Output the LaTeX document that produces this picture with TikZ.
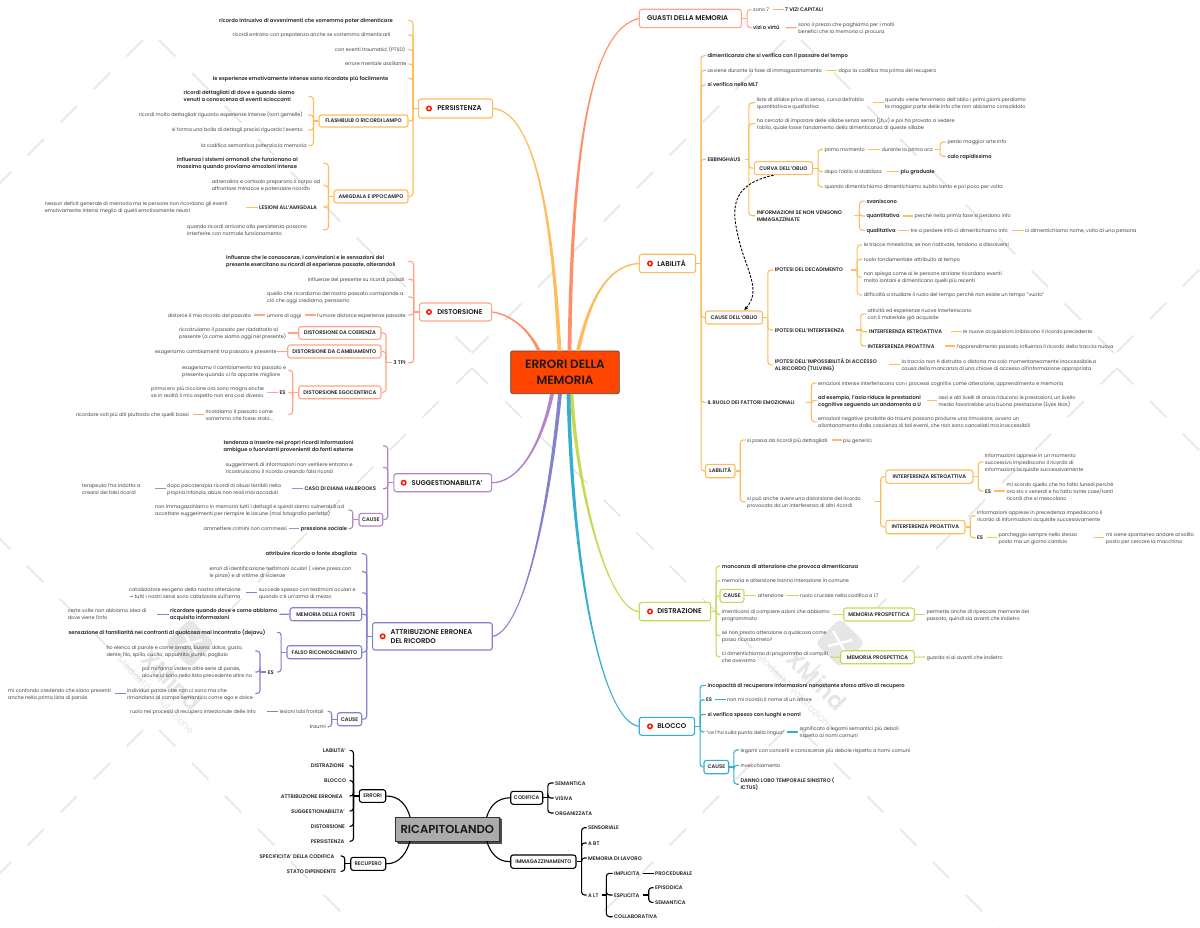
\documentclass[tikz,border=0pt]{standalone}
\usepackage{fontspec}
\setmainfont{Poppins}[BoldFont={Poppins SemiBold}]
\newfontfamily\arrowf{DejaVu Sans}
\usetikzlibrary{calc,arrows.meta}
\definecolor{cOr}{HTML}{FFBC5C}
\definecolor{cSa}{HTML}{FFA583}
\definecolor{cGu}{HTML}{FF8F6B}
\definecolor{cPu}{HTML}{B384C6}
\definecolor{cVi}{HTML}{8382CC}
\definecolor{cGr}{HTML}{C8DA55}
\definecolor{cBl}{HTML}{35AFCF}
\definecolor{cTx}{HTML}{444444}
\definecolor{cWm}{HTML}{E6E6E6}
\def\cc{black}
\newsavebox\tb
\newcommand\LL[1]{\begin{tabular}{@{}l@{}}#1\end{tabular}}
\newcommand\LS[1]{\sbox\tb{\LL{#1}}\raisebox{-.6pt}[\ht\tb][\dp\tb]{\usebox\tb}}
\tikzset{
 txt/.style={font=\fontsize{4.9}{7}\selectfont,text=cTx,inner xsep=1.5pt,inner ysep=0pt},
 btx/.style={font=\fontsize{5.2}{7}\selectfont\bfseries,text=black!85,inner xsep=1.5pt,inner ysep=0pt},
 bx/.style={draw=\cc,fill=white,line width=1.1pt,rounded corners=2.5pt,inner sep=0pt,font=\fontsize{5.25}{7}\selectfont\bfseries,text=black!85},
 mt/.style={draw=\cc,fill=white,line width=1.1pt,rounded corners=2.5pt,inner ysep=0pt,inner xsep=0pt,font=\fontsize{6.9}{9}\selectfont\bfseries,text=black!90},
 conn/.style={draw=\cc,line width=1.1pt},
 cur/.style={draw=\cc,line width=1.1pt,rounded corners=3pt},
 ico/.style={circle,draw=red!85!orange,line width=1.5pt,fill=white,minimum size=4.4pt,inner sep=0pt},
 wm/.style={draw=cWm,line width=1.7pt,dash pattern=on 23.3pt off 23.3pt},
}
% forced width text: xl, xr (connector end), y
\newcommand\Nd[6][txt]{\pgfmathsetmacro\wdd{#4-#3-1.5}\node[#1,anchor=west] (#2) at ({#3-1.5},#5) {\makebox[\wdd pt][l]{\LS{#6}}};}
% natural width text
\newcommand\Rt[5][txt]{\node[#1,anchor=west] (#2) at ({#3-1.5},#4) {\LS{#5}};}
\newcommand\Bx[6]{\pgfmathsetmacro\wdd{#3-#2}\pgfmathsetmacro\hdd{#5-#4}\node[bx,minimum width=\wdd pt,minimum height=\hdd pt] (#1) at ({(#2+#3)/2},{(#4+#5)/2}) {\raisebox{-1.9pt}[0pt][0pt]{#6}};}
% main topic: name xl xr yt yb textx iconx text
\newcommand\Mt[8]{\pgfmathsetmacro\wdd{#3-#2}\pgfmathsetmacro\hdd{#5-#4}\pgfmathsetmacro\pdd{#6-#2}\node[mt,anchor=west,minimum height=\hdd pt] (#1) at (#2,{(#4+#5)/2}) {\makebox[\wdd pt][l]{\hspace{\pdd pt}\LS{#8}}};\ifx&#7&\else\node[ico] (#1i) at (#7,{(#4+#5)/2}) {};\fi}
\newcommand\BR[3]{\draw[conn] (#1.east) -- ++(#2,0) coordinate (sp);\foreach \ch in {#3}{\draw[cur] (sp) |- (\ch.west);}}
\newcommand\BL[3]{\draw[conn] (#1.west) -- ++(-#2,0) coordinate (sp);\foreach \ch in {#3}{\draw[cur] (sp) |- (\ch.east);}}
\newcommand\LR[2]{\draw[conn] (#1.east) -- (#2.west);}
\newcommand\LF[2]{\draw[conn] (#1.west) -- (#2.east);}
% tapered trunk: sign, box anchor, c1, c2, end coordinate
\newcommand\Tk[5]{\fill[\cc] ($(#2)+(0,#1*.6)$) .. controls ($(#3)+(0,#1*1.1)$) and ($(#4)+(-1.5,0)$) .. ($(#5)+(-1.9,0)$) -- ($(#5)+(1.9,0)$) .. controls ($(#4)+(1.5,0)$) and ($(#3)+(0,-#1*1.1)$) .. ($(#2)+(0,-#1*.6)$) -- cycle;}
\begin{document}
\begin{tikzpicture}[x=1pt,y=-1pt]
\useasboundingbox (0,0) rectangle (1200,928);
\fill[white] (0,0) rectangle (1200,928);
% ---------- watermark
\foreach \ax/\ay/\bx/\by in {143/40/-10/193,159/40/471/352,785/40/471/354,801/40/1117/356,1117/352/1210/259,
 472/368/151/689,472/368/793/689,1117/368/793/692,1117/368/1210/461,-171/368/151/690,
 143/730/-20/893,159/730/370/941,785/730/570/945,801/730/1015/944}
 {\draw[wm] (\ax,\ay) -- (\bx,\by);}
\node[rotate=45,fill=cWm,rounded corners=5pt,minimum size=35pt,inner sep=0pt] (lg1) at (190,643) {};
\node[rotate=45,fill=cWm,rounded corners=5pt,minimum size=35pt,inner sep=0pt] (lg2) at (840,643) {};
\draw[white,line width=2.5pt] (lg1.center)++(-7,-12) -- ++(14,24) (lg1.center)++(-12,3) -- ++(24,-6);
\draw[white,line width=2.5pt] (lg2.center)++(-7,-12) -- ++(14,24) (lg2.center)++(-12,3) -- ++(24,-6);
\node[rotate=-45,text=cWm,font=\fontsize{23}{23}\selectfont\bfseries,inner sep=0pt] (wx1) at (172,680) {XMind};
\node[rotate=-45,text=cWm,font=\fontsize{23}{23}\selectfont\bfseries,inner sep=0pt] (wx2) at (817,680) {XMind};
\node[rotate=-45,text=cWm,font=\fontsize{10}{10}\selectfont,inner sep=0pt] (wt1) at (156,695) {Modalità valutazione};
\node[rotate=-45,text=cWm,font=\fontsize{10}{10}\selectfont,inner sep=0pt] (wt2) at (796,692) {Modalità valutazione};
% ---------- central
\node[draw=black!70,fill={rgb,255:red,255;green,69;blue,0},line width=.8pt,rounded corners=2pt,minimum width=108.6pt,minimum height=42.7pt,inner sep=0pt,align=center,font=\fontsize{12}{15.7}\selectfont\bfseries,text=black!90] (cen) at (565,372.3) {ERRORI DELLA\\MEMORIA};
\coordinate (tP) at (559.5,351);\coordinate (tD) at (539,351);\coordinate (tG) at (569.5,351);\coordinate (tL) at (578,351);
\coordinate (tS) at (552,394);\coordinate (tA) at (560,394);\coordinate (tB) at (568.5,394);\coordinate (tZ) at (571.5,394);
% ---------- PERSISTENZA
\def\cc{cOr}
\Mt{per}{418}{492}{99}{118}{436.7}{429}{PERSISTENZA}
\Tk{1}{per.east}{535,112}{553,220}{tP}
\Nd[btx]{p1}{219}{408}{20.5}{ricordo intrusivo di avvenimenti che vorremmo poter dimenticare}
\Nd{p2}{232.5}{408}{35}{ricordi entrano con prepotenza anche se vorremmo dimenticarli}
\Nd{p3}{335}{408}{49.5}{con eventi traumatici (PTSD)}
\Nd{p4}{345}{408}{64}{errore mentale assillante}
\Nd[btx]{p5}{212.7}{408}{78.5}{le esperienze emotivamente intense sono ricordate più facilmente}
\Bx{p6}{319}{408}{115}{127}{FLASHBULB O RICORDI LAMPO}
\Bx{p7}{334}{408}{190}{203}{AMIGDALA E IPPOCAMPO}
\BL{per}{5}{p1,p2,p3,p4,p5,p6,p7}
\Nd[btx]{f1}{183.5}{308}{96.5}{ricordi dettagliati di dove e quando siamo\\venuti a conoscenza di eventi scioccanti}
\Nd{f2}{138.7}{308}{115}{ricordi molto dettagliati riguardo esperienze intense (torri gemelle)}
\Nd{f3}{171.7}{308}{130}{si forma una bolla di dettagli precisi riguardo l'evento}
\Nd{f4}{201}{308}{145.5}{la codifica semantica potenzia la memoria}
\BL{p6}{5}{f1,f2,f3,f4}
\Nd[btx]{a1}{176.7}{323}{163.5}{influenza i sistemi ormonali che funzionano al\\massimo quando proviamo emozioni intense}
\Nd{a2}{211.7}{323}{185.5}{adrenalina e cortisolo preparano il corpo ad\\affrontare minacce e potenziare ricordo}
\Nd[btx]{a3}{259}{323}{207.5}{LESIONI ALL'AMIGDALA}
\Nd{a4}{187}{323}{229.8}{quando ricordi arrivano alla persistenza possono\\interferire con normale funzionamento}
\BL{p7}{5}{a1,a2,a3,a4}
\Nd{a31}{44.7}{246}{207.5}{nessun deficit generale di memoria ma le persone non ricordano gli eventi\\emotivamente intensi meglio di quelli emotivamente neutri}
\LF{a3}{a31}
% ---------- DISTORSIONE
\def\cc{cSa}
\Mt{dis}{419}{491}{303}{321}{436.7}{429}{DISTORSIONE}
\def\cc{cGu}\Tk{1}{dis.east}{515,315}{532,335}{tD}\def\cc{cSa}
\Nd[btx]{d1}{226}{408}{261.5}{influenze che le conoscenze, I convinzioni e le sensazioni del\\presente esercitano su ricordi di esperienze passate, alterandoli}
\Nd{d2}{307.7}{408}{279.3}{influenze del presente su ricordi passati}
\Nd{d3}{267}{408}{297}{quello che ricordiamo del nostro passato corrisponde a\\ciò che oggi crediamo, pensiamo}
\Nd{d4}{317}{408}{315}{l'umore distorce esperienze passate}
\Nd[btx]{d5}{393.3}{408}{362.7}{3 TPI}
\BL{dis}{5.3}{d1,d2,d3,d4,d5}
\Nd{d41}{266.7}{304.3}{315}{umore di oggi}
\Nd{d42}{167.7}{253.7}{315}{distorce il mio ricordo del passato}
\LF{d4}{d41}\LF{d41}{d42}
\Bx{dc}{298.7}{381}{326.7}{339.3}{DISTORSIONE DA COERENZA}
\Bx{dm}{287.7}{381}{345}{358}{DISTORSIONE DA CAMBIAMENTO}
\Bx{de}{298.7}{381}{386}{398.7}{DISTORSIONE EGOCENTRICA}
\BL{d5}{5.8}{dc,dm,de}
\Nd{dc1}{179}{287.7}{333}{ricostruiamo il passato per riadattarlo al\\presente (a come siamo oggi nel presente)}
\LF{dc}{dc1}
\Nd{dm1}{155}{277}{351.5}{esageriamo cambiamenti tra passato e presente}
\LF{dm}{dm1}
\Nd{e1}{182}{288}{370.5}{esageriamo il cambiamento tra passato e\\presente quando ci fa apparire migliore}
\Nd[btx]{e2}{279.3}{288}{392.3}{ES}
\Nd{e3}{205.3}{288}{414.5}{ricordiamo il passato come\\vorremmo che fosse stato...}
\BL{de}{5.4}{e1,e2,e3}
\Nd{e21}{151}{267}{392.3}{prima ero più ciccione ora sono magra anche\\se in realtà il mio aspetto non era così diverso}
\LF{e2}{e21}
\Nd{e31}{76}{192.7}{414.5}{ricordare voti più alti piuttosto che quelli bassi}
\LF{e3}{e31}
% ---------- SUGGESTIONABILITA
\def\cc{cPu}
\Mt{sug}{393.3}{491}{473.7}{491.7}{411}{403.7}{SUGGESTIONABILITA'}
\Tk{-1}{sug.east}{525,482}{545,430}{tS}
\Nd[btx]{s1}{223.3}{382.7}{446}{tendenza a inserire nei propri ricordi informazioni\\ambigue o fuorvianti provenienti da fonti esterne}
\Nd{s2}{225.7}{382.7}{467.5}{suggerimenti di informazioni non veritiere entrano e\\ricostruiscono il ricordo creando falsi ricordi}
\Nd[btx]{s3}{304.3}{382.7}{488.7}{CASO DI DIANA HALBROOKS}
\Bx{s4}{359}{382.7}{513.3}{526}{CAUSE}
\BL{sug}{5.6}{s1,s2,s3,s4}
\Nd{s31}{167}{291.7}{488.7}{dopo psicoterapia ricordi di abusi terribili nella\\propria infanzia, abusi non reali mai accaduti}
\Nd{s32}{82}{154.3}{488.7}{terapeuta l'ha indotta a\\crearsi dei falsi ricordi}
\LF{s3}{s31}\LF{s31}{s32}
\Nd{s41}{155}{348.3}{510}{non immagazziniamo in memoria tutti i dettagli e quindi siamo vulnerabili ad\\accettare suggerimenti per riempire le lacune (mai fotografia perfetta)}
\Nd[btx]{s42}{300.7}{348.3}{528.7}{pressione sociale}
\BL{s4}{5.7}{s41,s42}
\Nd{s43}{203.3}{288.3}{528.7}{ammettere crimini non commessi}
\LF{s42}{s43}
% ---------- ATTRIBUZIONE
\def\cc{cVi}
\Mt{att}{372}{491.7}{622.7}{650}{390}{382.7}{ATTRIBUZIONE ERRONEA\\DEL RICORDO}
\Tk{-1}{att.east}{525,630}{550,500}{tA}
\Nd[btx]{t1}{265.3}{361.7}{553.7}{attribuire ricordo a fonte sbagliata}
\Nd{t2}{209.3}{361.7}{571.7}{errori di identificazione testimoni oculari ( viene presa con\\le pinze) e di vittime di violenze}
\Nd{t3}{258.7}{361.7}{592.8}{succede spesso con testimoni oculari e\\quando c'è un'arma di mezzo}
\Bx{t4}{290}{361.7}{607.7}{620.7}{MEMORIA DELLA FONTE}
\Bx{t5}{287}{361.7}{645.7}{658.7}{FALSO RICONOSCIMENTO}
\Bx{t6}{337.3}{361.7}{712.7}{725.7}{CAUSE}
\BL{att}{5.3}{t1,t2,t3,t4,t5,t6}
\Nd{t31}{129}{245.7}{592.8}{catalizzatore esogeno della nostra attenzione\\{\arrowf →} tutti i nostri sensi sono catalizzate sull'arma}
\LF{t3}{t31}
\Nd[btx]{t41}{170}{279.3}{614.3}{ricordare quando dove e come abbiamo\\acquisito informazioni}
\Nd{t42}{67.7}{157}{614.3}{certe volte non abbiamo idea di\\dove viene l'info}
\LF{t4}{t41}\LF{t41}{t42}
\Nd[btx]{t51}{68.3}{276.7}{632.3}{sensazione di familiarità nei confronti di qualcosa mai incontrato (dejavu)}
\Nd[btx]{t52}{267.7}{276.7}{672}{ES}
\BL{t5}{5.3}{t51,t52}
\Nd{x1}{106.3}{255}{651}{ho elenco di parole e come amaro, buono, dolce, gusto,\\dente, filo, spillo, cucito, appuntito, punto, pagliaio}
\Nd{x2}{141.7}{255}{672}{poi mi fanno vedere altre serie di parole,\\alcune ci sono nella lista precedente altre no}
\Nd{x3}{127}{255}{693.5}{individuo parole che non ci sono ma che\\rimandano al campo semantico come ago e dolce}
\BL{t52}{6.2}{x1,x2,x3}
\Nd{x31}{8}{115}{693.5}{mi confondo credendo che siano presenti\\anche nella prima lista di parole}
\LF{x3}{x31}
\Nd{g1}{279.3}{327.3}{711.3}{lesioni lobi frontali}
\Nd{g2}{309.3}{327.3}{726.7}{traumi}
\BL{t6}{5}{g1,g2}
\Nd{g11}{130}{266.7}{711.3}{ruolo nei processi di recupero interzionale delle info}
\LF{g1}{g11}
% ---------- GUASTI
\def\cc{cSa}
\Mt{gua}{638.8}{740.8}{9.3}{27.7}{646.5}{}{GUASTI DELLA MEMORIA}
\def\cc{cGu}\Tk{-1}{gua.west}{590,30}{572,150}{tG}\def\cc{cSa}
\Nd{u1}{753}{772.4}{9.7}{sono 7}
\Rt[btx]{u11}{785}{9.7}{7 VIZI CAPITALI}
\Nd[btx]{u2}{753}{785.7}{27.7}{vizi o virtù}
\Rt{u21}{798.2}{27.8}{sono il prezzo che paghiamo per i molti\\benefici che la memoria ci procura}
\BR{gua}{5.2}{u1,u2}
\LR{u1}{u11}
\LR{u2}{u21}
% ---------- LABILITA
\def\cc{cOr}
\Mt{lab}{638.8}{695}{254.3}{272.7}{656.7}{650}{LABILITÀ}
\Tk{-1}{lab.west}{610,265}{590,295}{tL}
\Rt[btx]{l1}{707.3}{55.7}{dimenticanza che si verifica con il passare del tempo}
\Nd{l2}{707.3}{825.8}{70.3}{avviene durante la fase di immagazzinamento}
\Rt{l21}{838.3}{70.3}{dopo la codifica ma prima del recupero}
\LR{l2}{l21}
\Rt[btx]{l3}{707.3}{85}{si verifica nella MLT}
\Nd[btx]{l4}{707.3}{744.5}{159.3}{EBBINGHAUS}
\Bx{l5}{705.5}{762.5}{311}{324}{CAUSE DELL'OBLIO}
\Nd[btx]{l6}{707.3}{805.6}{402.3}{IL RUOLO DEI FATTORI EMOZIONALI}
\Bx{l7}{705.5}{735}{464.3}{477.7}{LABILITÀ}
\BR{lab}{5}{l1,l2,l3,l4,l5,l6,l7}
% ebbinghaus
\Nd{e41}{756.6}{872.2}{102.8}{liste di sillabe prive di senso, curva dell'oblio\\quantitativa e qualitativa}
\Rt{e411}{885}{102.8}{quando viene fenomeno dell'oblio i primi giorni perdiamo\\la maggior parte delle info che non abbiamo consolidato}
\LR{e41}{e411}
\Rt{e42}{756.6}{123.8}{ha cercato di imparare delle sillabe senza senso (j,h,v) e poi ha provato a vedere\\l'oblio, quale fosse l'andamento della dimenticanza di queste sillabe}
\Bx{cu}{754.4}{812.6}{161.7}{174.7}{CURVA DELL'OBLIO}
\Nd[btx]{e44}{756.6}{853.8}{215.8}{INFORMAZIONI SE NON VENGONO\\IMMAGAZZINATE}
\BR{l4}{4}{e41,e42,cu,e44}
\Nd{cu1}{824.3}{867.4}{149.3}{primo momento}
\Nd{cu11}{881.4}{934.7}{149.3}{durante la prima ora}
\LR{cu1}{cu11}
\Rt{cu111}{947.3}{142}{perdo maggior arte info}
\Rt[btx]{cu112}{947.3}{156.3}{calo rapidissimo}
\BR{cu11}{5}{cu111,cu112}
\Nd{cu2}{824.3}{886.5}{171.7}{dopo l'oblio si stabilizza}
\Rt[btx]{cu21}{900.5}{171.7}{piu graduale}
\LR{cu2}{cu21}
\Rt{cu3}{824.3}{187}{quando dimentichiamo dimentichiamo subito tanto e poi poco per volta}
\BR{cu}{5}{cu1,cu2,cu3}
\Rt[btx]{i1}{866.3}{201.3}{svaniscono}
\Nd[btx]{i2}{866.3}{902.7}{216}{quantitativa}
\Rt{i21}{914.5}{216}{perché nella prima fase si perdono info}
\LR{i2}{i21}
\Nd[btx]{i3}{866.3}{898}{230.3}{qualitativa}
\Nd{i31}{910.5}{1012}{230.3}{tre a perdere info ci dimentichiamo info}
\LR{i3}{i31}
\Rt{i32}{1025}{230.3}{ci dimentichiamo nome, volto di una persona}
\LR{i31}{i32}
\BR{e44}{5.2}{i1,i2,i3}
% cause oblio
\Nd[btx]{h1}{774.6}{850.8}{270}{IPOTESI DEL DECADIMENTO}
\Nd[btx]{h2}{774.6}{855.2}{330}{IPOTESI DELL'INTERFERENZA}
\Nd[btx]{h3}{774.6}{888.7}{364.8}{IPOTESI DELL'IMPOSSIBILITÀ DI ACCESSO\\AL RICORDO (TULVING)}
\BR{l5}{4.8}{h1,h2,h3}
\Rt{h11}{863.7}{245}{le tracce mnestiche, se non riattivate, tendono a dissolversi}
\Rt{h12}{863.7}{259.3}{ruolo fondamentale attribuito al tempo}
\Rt{h13}{863.7}{277.2}{non spiega come ai le persone anziane ricordano eventi\\molto lontani e dimenticano quelli più recenti}
\Rt{h14}{863.7}{295}{difficoltà a studiare il ruolo del tempo perché non esiste un tempo "vuoto"}
\BR{h1}{5.9}{h11,h12,h13,h14}
\Rt{h21}{867.4}{313.8}{attività ed esperienze nuove interferiscono\\con il materiale già acquisite}
\Nd[btx]{h22}{868.9}{950.6}{331.7}{INTERFERENZA RETROATTIVA}
\Rt{h221}{963}{331.7}{le nuove acquisizioni inibiscono il ricordo precedente}
\LR{h22}{h221}
\Nd[btx]{h23}{867.4}{944.7}{346}{INTERFERENZA PROATTIVA}
\Rt{h231}{956.5}{346}{l'apprendimento passato influenza il ricordo della traccia nuova}
\LR{h23}{h231}
\BR{h2}{5.2}{h21,h22,h23}
\Rt{h31}{901.3}{364.8}{la traccia non è distrutta o distorta ma solo momentaneamente inaccessibile,a\\causa della mancanza di una chiave di accesso all'informazione appropriata}
\LR{h3}{h31}
% emozionali
\Rt{m1}{818}{383}{emozioni intense interferiscono con i processi cognitivi come attenzione, apprendimento e memoria}
\Nd[btx]{m2}{818}{926.7}{400.5}{ad esempio, l'asia riduce le prestazioni\\cognitive seguendo un andamento a U}
\Rt{m21}{938.4}{400.5}{assi e alti livelli di ansia riducono le prestazioni, un livello\\medio favorirebbe una buona prestazione (Eyes Nick)}
\LR{m2}{m21}
\Rt{m3}{818}{421.8}{emozioni negative prodotte da traumi possono produrre una rimozione, ovvero un\\allontanamento dalla coscienza di tali eventi, che non sono cancellati ma inaccessibili}
\BR{l6}{5.4}{m1,m2,m3}
% labilita
\Nd{n1}{747}{831.3}{440}{si passa da ricordi più dettagliati}
\Rt{n11}{843}{440}{piu generici}
\LR{n1}{n11}
\Nd{n2}{747}{874.8}{501.8}{si può anche avere una distorsione del ricordo\\provocata da un interferenza di altri ricordi}
\BR{l7}{4.7}{n1,n2}
\Bx{ir}{885.8}{973}{470}{483.3}{INTERFERENZA RETROATTIVA}
\Bx{ip}{885.8}{965}{520.3}{533.7}{INTERFERENZA PROATTIVA}
\BR{n2}{5.5}{ir,ip}
\Rt{ir1}{984.8}{462}{informazioni apprese in un momento\\successivo impediscono il ricordo di\\informazioni acquisite successivamente}
\Nd[btx]{ir2}{984.8}{994}{491}{ES}
\Rt{ir21}{1006.5}{491}{mi scordo quello che ho fatto lunedi perché\\ora sto s venerdi e ho fatto tante cose/tanti\\ricordi che si mescolano}
\LR{ir2}{ir21}
\BR{ir}{4.8}{ir1,ir2}
\Rt{ip1}{977}{515.7}{informazioni apprese in precedenza impediscono il\\ricordo di informazioni acquisite successivamente}
\Nd[btx]{ip2}{977}{986.3}{537.7}{ES}
\Nd{ip21}{998.4}{1093.7}{537.7}{parcheggio sempre nello stesso\\posto ma un giorno cambio}
\Rt{ip22}{1105.9}{537.7}{mi viene spontaneo andare al solito\\posto per cercare la macchina}
\LR{ip2}{ip21}
\LR{ip21}{ip22}
\BR{ip}{4.7}{ip1,ip2}
% dashed link
\draw[black,line width=.9pt,dash pattern=on 2.5pt off 1.5pt,-{Latex[length=4pt,width=3.5pt]}] ($(cu.south)+(-10,0)$) .. controls (728,185) and (732,212) .. (739,240) .. controls (746,270) and (762,290) .. ($(l5.north)+(10,0)$);
% ---------- DISTRAZIONE
\def\cc{cGr}
\Mt{zio}{638.7}{710}{602.3}{620.7}{656.7}{650}{DISTRAZIONE}
\Tk{1}{zio.west}{610,610}{578,500}{tZ}
\Rt[btx]{z1}{721.7}{566}{mancanza di attenzione che provoca dimenticanza}
\Rt{z2}{721.7}{580.7}{memoria e attenzione hanno interazione in comune}
\Bx{z3}{720}{744}{589.3}{602.3}{CAUSE}
\Nd{z4}{721.7}{832.7}{614.5}{imenticarsi di compiere azioni che abbiamo\\programmato}
\Rt{z5}{721.7}{635.8}{se non presto attenzione a qualcosa come\\posso ricordarmelo?}
\Nd{z6}{721.7}{830}{657}{ci dimentichiamo di programma di compiti\\che avevamo}
\BR{zio}{5}{z1,z2,z3,z4,z5,z6}
\Nd{z31}{757.7}{786}{595.8}{attenzione}
\Rt{z32}{800}{595.8}{ruolo cruciale nella codifica a LT}
\LR{z3}{z31}
\LR{z31}{z32}
\Bx{mp1}{843.7}{914.3}{608}{621}{MEMORIA PROSPETTICA}
\Bx{mp2}{840.7}{914.3}{650.7}{663.7}{MEMORIA PROSPETTICA}
\LR{z4}{mp1}\LR{z6}{mp2}
\Rt{mp11}{926.3}{614.5}{permette anche di ripescare memorie del\\passato, quindi sia avanti che indietro}
\Rt{mp21}{926.3}{657}{guarda si ai avanti che indietro}
\LR{mp1}{mp11}\LR{mp2}{mp21}
% ---------- BLOCCO
\def\cc{cBl}
\Mt{blo}{638.7}{694}{717.3}{735.3}{656.7}{650}{BLOCCO}
\Tk{1}{blo.west}{600,720}{572,560}{tB}
\Rt[btx]{b1}{707.3}{685.3}{incapacità di recuperare informazioni nonostante sforzo attivo di recupero}
\Nd[btx]{b2}{706}{715}{699.7}{ES}
\Rt{b21}{727}{699.7}{non mi ricordo il nome di un attore}
\LR{b2}{b21}
\Rt[btx]{b3}{707.3}{714.3}{si verifica spesso con luoghi e nomi}
\Nd{b4}{706}{787}{732}{"ce l'ho sulla punta della lingua"}
\Rt{b41}{799.3}{732}{significato o legami semantici più deboli\\rispetto ai nomi comuni}
\LR{b4}{b41}
\Bx{b5}{704}{728.7}{760.3}{773.7}{CAUSE}
\BR{blo}{5}{b1,b2,b3,b4,b5}
\Rt{b51}{740.3}{750}{legami con concetti e conoscenze più debole rispetto a nomi comuni}
\Rt{b52}{740.3}{765.3}{invecchiamento}
\Rt[btx]{b53}{740.3}{784.2}{DANNO LOBO TEMPORALE SINISTRO (\\ICTUS)}
\BR{b5}{4.6}{b51,b52,b53}
% ---------- RICAPITOLANDO
\def\cc{black}
\fill[black!55,draw=black!70,line width=.4pt] (398.2,819.5) rectangle (501,843.5);
\fill[black!45,draw=black!70,line width=.4pt] (397,818.2) rectangle (500,842.2);
\node[draw=black!80,fill=black!33,line width=.8pt,minimum width=103.3pt,minimum height=24pt,inner sep=0pt,font=\fontsize{11.6}{13}\selectfont\bfseries,text=black!90] (ric) at (447.3,829) {RICAPITOLANDO};
\coordinate (rA) at (410,817);\coordinate (rB) at (410,841);\coordinate (rC) at (486.7,817);\coordinate (rD) at (486.7,841);
\Bx{er}{359.3}{385.7}{789.7}{802.3}{ERRORI}
\Bx{re}{350.7}{385.7}{857.3}{870.3}{RECUPERO}
\Bx{co}{510.7}{542.7}{791.3}{804.3}{CODIFICA}
\Bx{im}{510.7}{576}{855}{868.3}{IMMAGAZZINAMENTO}
\draw[conn] (er.east) .. controls (400,796) and (407,806) .. (rA);
\draw[conn] (re.east) .. controls (400,864) and (407,852) .. (rB);
\draw[conn] (co.west) .. controls (497,798) and (490,806) .. (rC);
\draw[conn] (im.west) .. controls (497,862) and (490,852) .. (rD);
\Nd[btx]{ra}{322.7}{349.3}{750.3}{LABILITA'}
\Nd[btx]{rb}{310.7}{349.3}{765.7}{DISTRAZIONE}
\Nd[btx]{rc}{324}{349.3}{780.7}{BLOCCO}
\Nd[btx]{rd}{280.7}{349.3}{796}{ATTRIBUZIONE ERRONEA}
\Nd[btx]{rf}{291}{349.3}{811}{SUGGESTIONABILITA'}
\Nd[btx]{rg}{310.7}{349.3}{826.3}{DISTORSIONE}
\Nd[btx]{rh}{310.7}{349.3}{841.3}{PERSISTENZA}
\BL{er}{5.3}{ra,rb,rc,rd,rf,rg,rh}
\Nd[btx]{sa}{259.3}{340.3}{856}{SPECIFICITA' DELLA CODIFICA}
\Nd[btx]{sb}{286.7}{340.3}{871.3}{STATO DIPENDENTE}
\BL{re}{5.4}{sa,sb}
\Rt[btx]{ca}{555}{783}{SEMANTICA}
\Rt[btx]{cb}{555}{798}{VISIVA}
\Rt[btx]{cc1}{555}{813}{ORGANIZZATA}
\BR{co}{4.6}{ca,cb,cc1}
\Rt[btx]{ia}{588}{827.7}{SENSORIALE}
\Rt[btx]{ib}{588}{843}{A BT}
\Rt[btx]{ic}{588}{858}{MEMORIA DI LAVORO}
\Nd[btx]{id}{588}{601.7}{895}{A LT}
\BR{im}{5}{ia,ib,ic,id}
\Nd[btx]{ie}{614}{642.3}{873.3}{IMPLICITA}
\Nd[btx]{ig}{614}{642.3}{895}{ESPLICITA}
\Rt[btx]{ih}{614}{916.7}{COLLABORATIVA}
\BR{id}{4.3}{ie,ig,ih}
\Rt[btx]{ii}{655}{873.3}{PROCEDURALE}
\LR{ie}{ii}
\Rt[btx]{ij}{655}{887.7}{EPISODICA}
\Rt[btx]{ik}{655}{902.3}{SEMANTICA}
\BR{ig}{6}{ij,ik}
\end{tikzpicture}
\end{document}
